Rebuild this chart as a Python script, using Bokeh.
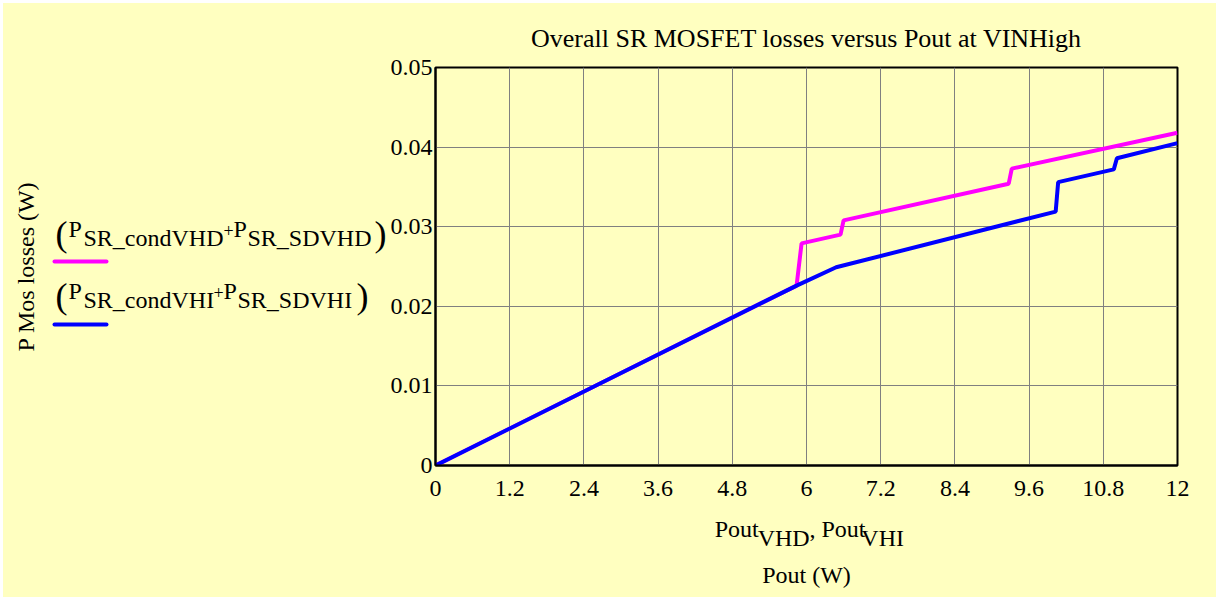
import math
from bokeh.plotting import figure
from bokeh.models import Range1d, FixedTicker, Spacer
from bokeh.layouts import row, column
from bokeh.core.properties import value
from bokeh.embed import file_html
from bokeh.resources import INLINE

# ---- data ----
pout_vhd = [0.0, 5.84, 5.92, 6.55, 6.60, 9.27, 9.32, 12.0]
p_mos_vhd = [0.0, 0.0226, 0.0279, 0.0290, 0.0308, 0.0354, 0.0373, 0.0418]
pout_vhi = [0.0, 5.84, 6.48, 10.03, 10.07, 10.97, 11.02, 12.0]
p_mos_vhi = [0.0, 0.0226, 0.0249, 0.0319, 0.0356, 0.0372, 0.0386, 0.0405]

x_ticks = [0, 1.2, 2.4, 3.6, 4.8, 6, 7.2, 8.4, 9.6, 10.8, 12]
x_tick_labels = ["0", "1.2", "2.4", "3.6", "4.8", "6", "7.2", "8.4", "9.6", "10.8", "12"]
y_ticks = [0, 0.01, 0.02, 0.03, 0.04, 0.05]
y_tick_labels = ["0", "0.01", "0.02", "0.03", "0.04", "0.05"]

title_text = "Overall SR MOSFET losses versus Pout at VINHigh"
y_label_text = "P Mos losses (W)"
x_unit_text = "Pout (W)"
series_colors = ["#FF00FF", "#0000FF"]

BG = "#FFFFC0"
FONT = "Liberation Serif"
FS = 24
OFF = 3                      # white strip at top/left of the page
TOTAL_W, TOTAL_H = 1216 - OFF, 597 - OFF
LEFT_W = 384
MAIN_W = TOTAL_W - LEFT_W
MAIN_H = 507
BOTTOM_H = TOTAL_H - MAIN_H
FRAME_TOP = 64
FRAME_H = 398
FRAME_LEFT = 46
FRAME_W = 744
FRAME_RIGHT = MAIN_W - FRAME_LEFT - FRAME_W


def blank(width, height, x0, x1, y0, y1, bl=0, br=0):
    # panel whose data coordinates equal page pixel coordinates (y down)
    f = figure(width=width, height=height, output_backend="svg", toolbar_location=None,
               x_range=Range1d(x0, x1), y_range=Range1d(y1, y0),
               min_border=0, min_border_left=bl, min_border_right=br,
               min_border_top=0, min_border_bottom=0)
    f.axis.visible = False
    f.grid.visible = False
    f.outline_line_color = None
    f.background_fill_color = BG
    f.border_fill_color = BG
    return f


# ---------------- main chart ----------------
p = figure(width=MAIN_W, height=MAIN_H, output_backend="svg", toolbar_location=None,
           x_range=Range1d(0, 12), y_range=Range1d(0, 0.05),
           min_border_left=FRAME_LEFT, min_border_right=FRAME_RIGHT,
           min_border_top=FRAME_TOP, min_border_bottom=MAIN_H - FRAME_TOP - FRAME_H)
p.background_fill_color = BG
p.border_fill_color = BG
p.outline_line_color = "black"
p.outline_line_width = 2

p.title.text = title_text
p.title.align = "center"
p.title.text_font = FONT
p.title.text_font_size = "26px"
p.title.text_font_style = "normal"
p.title.text_color = "black"
p.title.standoff = 29

p.line(pout_vhd, p_mos_vhd, line_color=series_colors[0], line_width=4)
p.line(pout_vhi, p_mos_vhi, line_color=series_colors[1], line_width=4)

p.xaxis.ticker = FixedTicker(ticks=x_ticks)
p.yaxis.ticker = FixedTicker(ticks=y_ticks)
p.xaxis.major_label_overrides = {t: l for t, l in zip(x_ticks, x_tick_labels)}
p.yaxis.major_label_overrides = {t: l for t, l in zip(y_ticks, y_tick_labels)}
for ax in (p.xaxis, p.yaxis):
    ax.axis_line_color = "black"
    ax.axis_line_width = 2
    ax.major_tick_in = 0
    ax.major_tick_out = 0
    ax.minor_tick_line_color = None
    ax.major_label_text_font = FONT
    ax.major_label_text_font_size = f"{FS}px"
    ax.major_label_text_color = "black"
p.xaxis.major_label_standoff = 15
p.yaxis.major_label_standoff = 3

p.grid.grid_line_color = "#808080"
p.grid.grid_line_width = 1
p.grid.grid_line_alpha = 1.0

BASE_SHIFT = 0.3  # empirical baseline correction (fraction of font size)


def ltext(f, text, px, py, size=FS, align="left", angle=0.0):
    # px, py: page pixels of the text baseline
    if angle:
        px = px - BASE_SHIFT * size
    else:
        py = py - BASE_SHIFT * size
    f.text(x=[px], y=[py], text=[text], text_font=value(FONT),
           text_font_size=f"{size}px", text_color="black", text_align=align,
           text_baseline="alphabetic", angle=angle)


# ---------------- left panel: y label + legend ----------------
lf = blank(LEFT_W, TOTAL_H, OFF, OFF + LEFT_W, OFF, OFF + TOTAL_H)
ltext(lf, y_label_text, 33, 266, align="center", angle=math.pi / 2)

# (cond, sd, baseline, plus_x, P2_x, sd_x, close_x)
legend_rows = [
    ("condVHD", "SDVHD", 236, 223, 233, 247, 374),
    ("condVHI", "SDVHI", 298, 213, 223, 237, 356),
]
legend_line_y = [261, 324]
for (cond, sd, base, plus_x, p2_x, sd_x, close_x), col, ly in zip(legend_rows, series_colors, legend_line_y):
    ltext(lf, "(", 55, base + 8, size=36)
    ltext(lf, "P", 68, base)
    ltext(lf, "SR_" + cond, 83, base + 9)
    ltext(lf, "+", plus_x, base - 1, size=18)
    ltext(lf, "P", p2_x, base)
    ltext(lf, "SR_" + sd, sd_x, base + 9)
    ltext(lf, ")", close_x, base + 8, size=36)
    lf.line(x=[54, 106], y=[ly, ly], line_color=col, line_width=4, line_cap="round")

# ---------------- bottom panel: x labels ----------------
OY = OFF + MAIN_H
bf = blank(MAIN_W, BOTTOM_H, OFF + LEFT_W + FRAME_LEFT, OFF + LEFT_W + FRAME_LEFT + FRAME_W,
           OY, OY + BOTTOM_H, bl=FRAME_LEFT, br=FRAME_RIGHT)
ltext(bf, "Pout", 713, 536)
ltext(bf, "VHD", 756, 545)
ltext(bf, ",", 808, 536)
ltext(bf, "Pout", 820, 536)
ltext(bf, "VHI", 860, 545)
ltext(bf, x_unit_text, 805, 582, align="center")

yellow = {"background-color": BG}
right_col = column(p, bf, spacing=0, styles=yellow)
content = row(lf, right_col, spacing=0, styles=yellow)
layout = column(Spacer(height=OFF, width=1216),
                row(Spacer(width=OFF, height=TOTAL_H), content, spacing=0), spacing=0)
open("out.html", "w").write(file_html(layout, INLINE))
